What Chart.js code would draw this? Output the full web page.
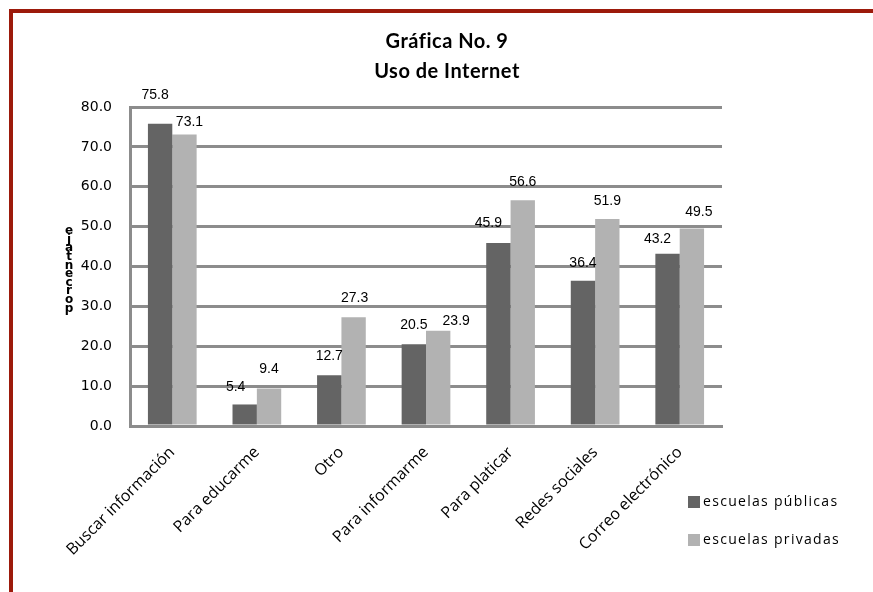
<!DOCTYPE html>
<html><head><meta charset="utf-8">
<script src="https://cdn.jsdelivr.net/npm/chart.js@4/dist/chart.umd.min.js"></script>
<style>html,body{margin:0;padding:0;background:#fff;overflow:hidden}canvas{display:block}</style>
</head><body>
<canvas id="c" width="873" height="592"></canvas>
<script>
const categories = ["Buscar información","Para educarme","Otro","Para informarme","Para platicar","Redes sociales","Correo electrónico"];
const publicas = [75.8, 5.4, 12.7, 20.5, 45.9, 36.4, 43.2];
const privadas = [73.1, 9.4, 27.3, 23.9, 56.6, 51.9, 49.5];
const yTicks = [0, 10, 20, 30, 40, 50, 60, 70, 80];
const seriesNames = ["escuelas públicas", "escuelas privadas"];
const titleLines = ["Gráfica No. 9", "Uso de Internet"];
const axisTitle = "porcentaje";
// small label nudges (pixels) relative to default placement above each bar
const labelNudge = [
  [[-5,-11],[-9,1],[0,-1],[0,-1],[-10,-2],[0,0],[-10,3]],
  [[5,6],[0,-1],[1,-1],[18,8],[0,0],[0,0],[7,2]]
];
const colors = ['#646464', '#b2b2b2'];
const gridColor = '#8c8c8c';

const decor = {
  id: 'decor',
  beforeDraw(chart) {
    const ctx = chart.ctx;
    ctx.save();
    ctx.fillStyle = '#fff';
    ctx.fillRect(0, 0, chart.width, chart.height);
    ctx.fillStyle = '#9c1a0b';
    ctx.fillRect(9, 9, chart.width - 9, 4);
    ctx.fillRect(9, 9, 4, chart.height - 9);
    ctx.restore();
  },
  afterDraw(chart) {
    const ctx = chart.ctx;
    ctx.save();
    ctx.fillStyle = '#000';
    ctx.textAlign = 'center';
    ctx.textBaseline = 'middle';
    ctx.font = 'bold 20px Lato';
    try { ctx.letterSpacing = '0.5px'; } catch (e) {}
    ctx.fillText(titleLines[0], 447, 42);
    ctx.fillText(titleLines[1], 447, 72);
    try { ctx.letterSpacing = '0px'; } catch (e) {}
    // stacked axis title
    ctx.font = 'bold 12px "DejaVu Sans"';
    axisTitle.split('').reverse().forEach((ch, i) => ctx.fillText(ch, 69, 231 + i * 8.6));
    // data labels
    ctx.font = '14px "Liberation Sans"';
    chart.data.datasets.forEach((ds, di) => {
      const meta = chart.getDatasetMeta(di);
      meta.data.forEach((bar, i) => {
        const n = labelNudge[di][i];
        ctx.fillText(ds.data[i].toFixed(1), bar.x + n[0], bar.y - 18 + n[1]);
      });
    });
    // legend
    ctx.textAlign = 'left';
    ctx.font = '14px "Open Sans"';
    try { ctx.letterSpacing = '1.3px'; } catch (e) {}
    chart.data.datasets.forEach((ds, di) => {
      const y = 502 + di * 38;
      ctx.fillStyle = ds.backgroundColor;
      ctx.fillRect(688, y - 6, 12, 12);
      ctx.fillStyle = '#000';
      ctx.fillText(ds.label, 703, y);
    });
    ctx.restore();
  }
};

new Chart(document.getElementById('c'), {
  type: 'bar',
  data: {
    labels: categories,
    datasets: [
      { label: seriesNames[0], data: publicas, backgroundColor: colors[0], barPercentage: 1, categoryPercentage: 0.576 },
      { label: seriesNames[1], data: privadas, backgroundColor: colors[1], barPercentage: 1, categoryPercentage: 0.576 }
    ]
  },
  options: {
    responsive: false,
    animation: false,
    devicePixelRatio: 1,
    layout: { padding: { left: 0, right: 151, top: 107, bottom: 0 } },
    plugins: { legend: { display: false }, title: { display: false }, tooltip: { enabled: false } },
    scales: {
      x: {
        grid: { display: false, drawTicks: false },
        border: { display: true, color: gridColor, width: 3 },
        ticks: { color: '#000', font: { family: 'Open Sans', size: 16 }, maxRotation: 45, minRotation: 45, padding: 17 },
        afterFit(scale) { scale.height = 166; }
      },
      y: {
        min: 0, max: 80,
        afterBuildTicks(scale) { scale.ticks = yTicks.map(v => ({ value: v })); },
        grid: { color: gridColor, lineWidth: 3, drawTicks: false },
        border: { display: true, color: gridColor, width: 3 },
        ticks: { color: '#000', font: { family: 'DejaVu Sans', size: 14 }, padding: 18, callback: v => Number(v).toFixed(1) },
        afterFit(scale) { scale.width = 130; }
      }
    }
  },
  plugins: [decor]
});
</script>
</body></html>
